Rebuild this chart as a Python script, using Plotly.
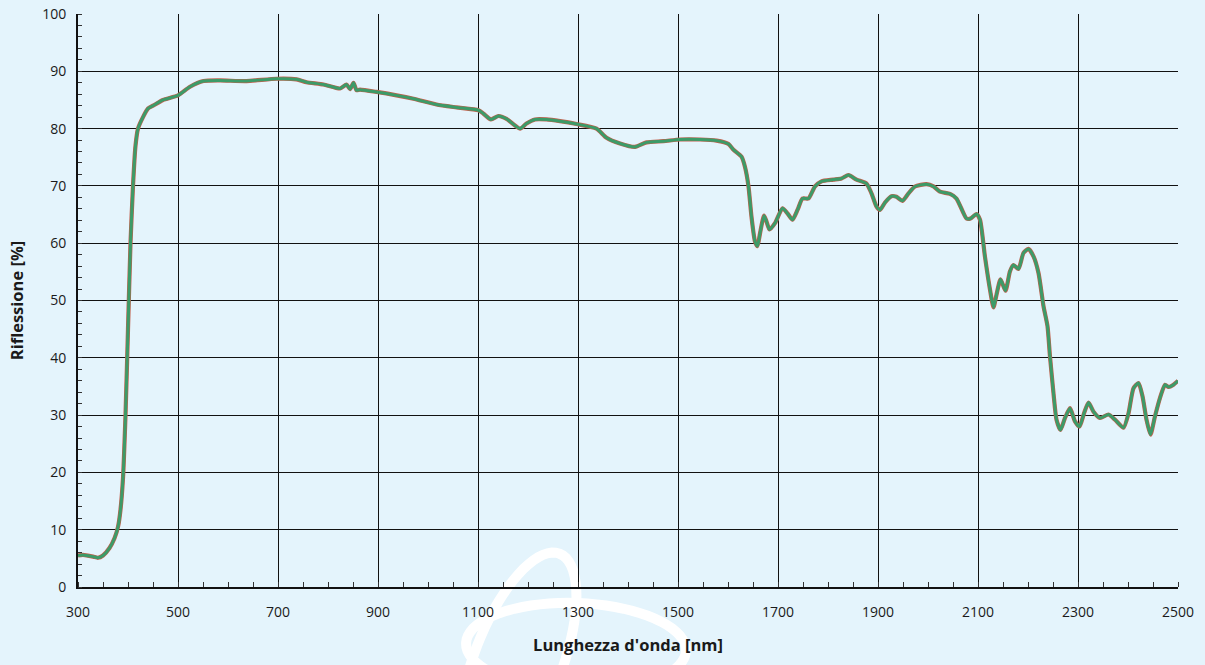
import math
import plotly.graph_objects as go

wavelength = [300, 310, 330, 340, 350, 363, 373, 380, 385, 390, 395, 400, 405, 410, 415, 420, 430, 440, 450, 470, 500,
              524, 551, 584, 637, 697, 737, 757, 791, 824, 837, 844, 851, 857, 864, 897, 937, 971, 1017, 1057, 1101,
              1111, 1126, 1141, 1157, 1184, 1197, 1214, 1237, 1264, 1297, 1337, 1357, 1384, 1414, 1437, 1471, 1504,
              1544, 1577, 1601, 1611, 1627, 1634, 1641, 1647, 1654, 1659, 1664, 1672, 1677, 1683, 1694, 1709, 1719,
              1729, 1739, 1749, 1761, 1774, 1787, 1811, 1827, 1841, 1857, 1877, 1887, 1897, 1904, 1914, 1927, 1937,
              1949, 1961, 1974, 1997, 2011, 2024, 2044, 2057, 2077, 2085, 2097, 2104, 2114, 2124, 2131, 2137, 2145,
              2155, 2164, 2171, 2181, 2191, 2201, 2211, 2221, 2231, 2239, 2244, 2251, 2257, 2265, 2274, 2284, 2294,
              2303, 2312, 2321, 2331, 2344, 2361, 2374, 2391, 2401, 2411, 2421, 2429, 2437, 2445, 2454, 2464, 2474,
              2481, 2491, 2500]
reflection = [5.5, 5.6, 5.3, 5.1, 5.5, 6.8, 8.5, 10.5, 13.5, 19, 30, 45, 60, 70, 77, 80, 82, 83.5, 84, 85, 85.8,
              87.3, 88.3, 88.4, 88.3, 88.7, 88.6, 88.1, 87.7, 87.0, 87.7, 86.9, 88.0, 86.7, 86.8, 86.4, 85.8, 85.2,
              84.2, 83.7, 83.2, 82.6, 81.6, 82.2, 81.7, 80.0, 80.9, 81.6, 81.6, 81.3, 80.8, 80.0, 78.4, 77.4, 76.8,
              77.6, 77.8, 78.1, 78.1, 77.9, 77.3, 76.3, 75.1, 73.3, 69.9, 64.6, 60.3, 59.5, 61.7, 64.8, 63.8, 62.4,
              63.5, 66.1, 65.2, 64.1, 65.8, 67.8, 67.8, 69.9, 70.8, 71.1, 71.3, 71.9, 71.1, 70.4, 68.7, 66.4, 65.8,
              67.1, 68.2, 68.1, 67.4, 68.7, 69.9, 70.3, 69.9, 69.0, 68.6, 67.8, 64.3, 64.3, 65.1, 64.1, 57.6, 51.9,
              48.8, 51.0, 53.7, 51.7, 55.1, 56.2, 55.5, 58.3, 59.0, 57.7, 54.8, 49.0, 45.5, 40.2, 33.8, 29.2, 27.4,
              29.5, 31.2, 28.9, 28.0, 30.3, 32.2, 30.6, 29.5, 30.1, 29.2, 27.8, 30.3, 34.7, 35.6, 33.3, 29.2, 26.6,
              29.8, 33.0, 35.3, 34.9, 35.3, 36.0]

x_ticks = [300, 500, 700, 900, 1100, 1300, 1500, 1700, 1900, 2100, 2300, 2500]
y_ticks = [0, 10, 20, 30, 40, 50, 60, 70, 80, 90, 100]

bg = "#E4F4FC"
font_family = "Open Sans, Liberation Sans, sans-serif"

W, H = 1205, 665
L, R, T, B = 78, 27, 14, 78
PW, PH = W - L - R, H - T - B


def ellipse_path(cx, cy, a, b, rot_deg, n=72):
    """Decorative watermark ellipse, page pixels -> paper coords."""
    r = math.radians(rot_deg)
    pts = []
    for i in range(n + 1):
        t = 2 * math.pi * i / n
        ex, ey = a * math.cos(t), b * math.sin(t)
        px = cx + ex * math.cos(r) - ey * math.sin(r)
        py = cy + ex * math.sin(r) + ey * math.cos(r)
        pts.append(((px - L) / PW, (H - B - py) / PH))
    return "M " + " L ".join(f"{x:.5f},{y:.5f}" for x, y in pts) + " Z"


logo_shapes = [
    dict(type="path", path=ellipse_path(518, 662, 116, 44, -69), xref="paper", yref="paper",
         line=dict(color="white", width=10), layer="below"),
    dict(type="path", path=ellipse_path(576, 647, 110, 44, 2), xref="paper", yref="paper",
         line=dict(color="white", width=10), layer="below"),
]

fig = go.Figure()
fig.add_trace(go.Scatter(x=wavelength, y=reflection, mode="lines",
                         line=dict(color="#C0604D", width=4.2, shape="spline", smoothing=0.6),
                         hoverinfo="skip", showlegend=False))
fig.add_trace(go.Scatter(x=wavelength, y=reflection, mode="lines",
                         line=dict(color="#3C9B68", width=3, shape="spline", smoothing=0.6),
                         showlegend=False))

fig.update_layout(
    width=W, height=H,
    paper_bgcolor=bg, plot_bgcolor=bg,
    margin=dict(l=L, r=R, t=T, b=B),
    font=dict(family=font_family, size=14, color="#1a1a1a"),
    shapes=logo_shapes,
    xaxis=dict(range=[300, 2500], tickvals=x_ticks, ticktext=[str(v) for v in x_ticks],
               automargin=False,
               showgrid=True, gridcolor="#111111", gridwidth=1,
               showline=True, linecolor="#111111", linewidth=2, zeroline=False,
               ticks="", ticklen=0, ticklabelstandoff=11,
               minor=dict(dtick=50, ticks="inside", ticklen=5, tickcolor="#333333", showgrid=False),
               title=dict(text="<b>Lunghezza d'onda [nm]</b>", font=dict(size=16.5), standoff=20)),
    yaxis=dict(range=[0, 100], tickvals=y_ticks,
               automargin=False,
               showgrid=True, gridcolor="#111111", gridwidth=1,
               showline=True, linecolor="#111111", linewidth=2, zeroline=False,
               ticks="", ticklen=0, ticklabelstandoff=7,
               minor=dict(dtick=2, ticks="inside", ticklen=4, tickcolor="#333333", showgrid=False),
               title=dict(text="<b>Riflessione [%]</b>", font=dict(size=16.5), standoff=14)),
)

fig.write_html("out.html",
               config={"displayModeBar": False},
               post_script="document.body.style.margin='0';document.body.style.overflow='hidden';"
                           "document.body.style.background='" + bg + "';")
